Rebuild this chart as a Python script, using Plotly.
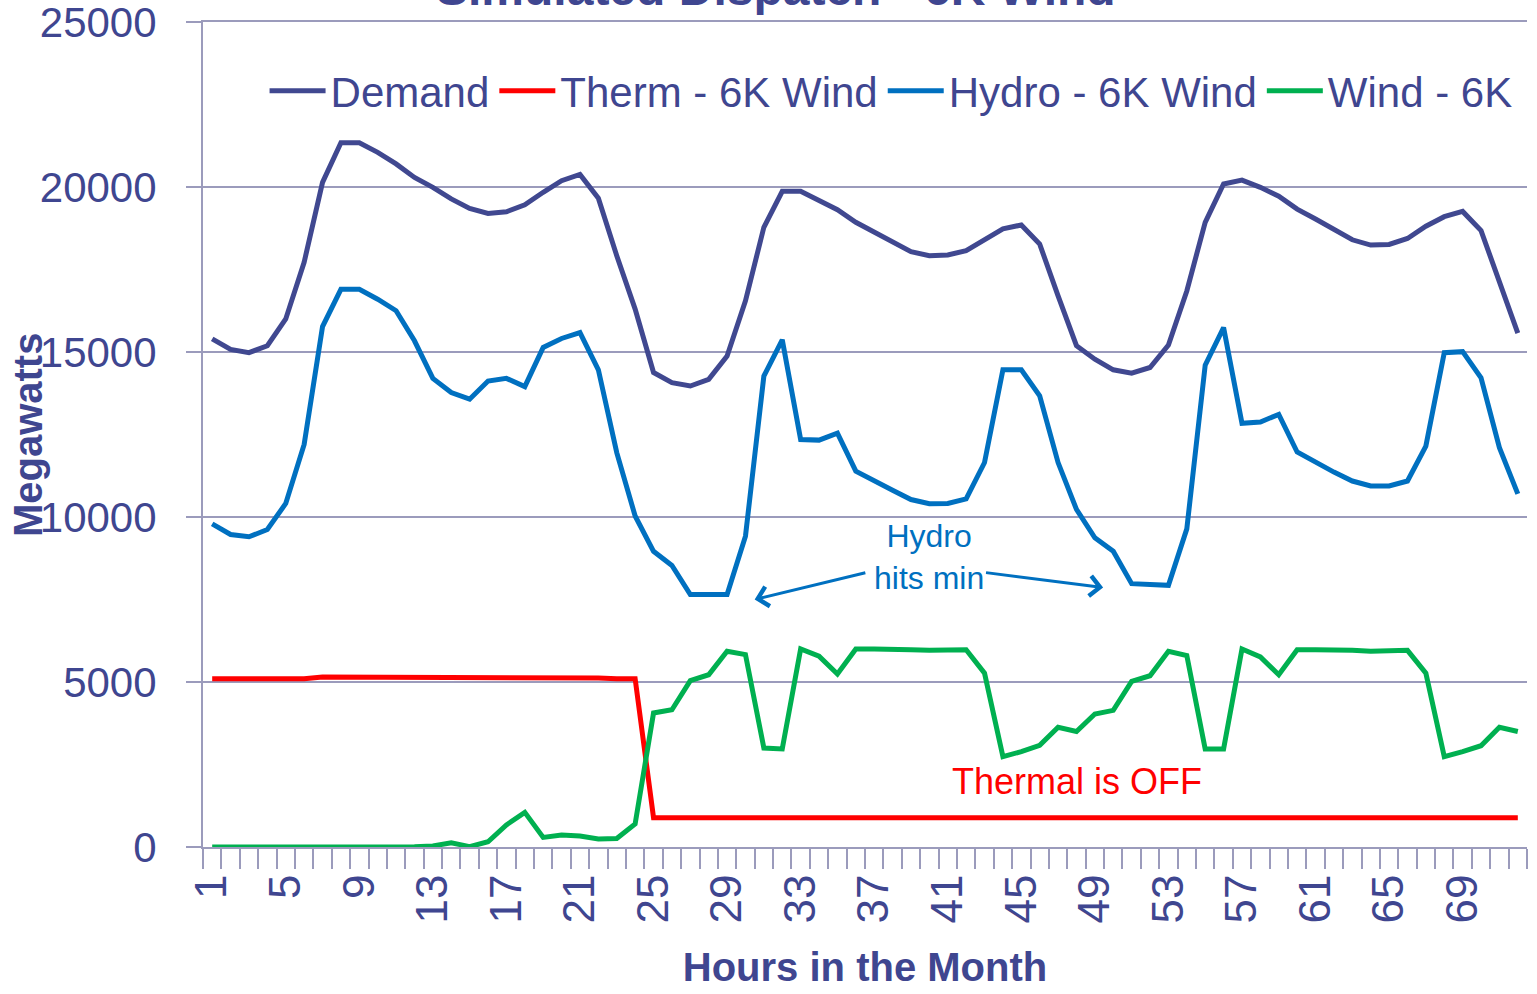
import plotly.graph_objects as go

# Hourly dispatch, first 72 hours of the month (MW)
hours = list(range(1, 73))

demand = [15400, 15080, 14980, 15190, 16000, 17720, 20140, 21340, 21340, 21050,
          20700, 20290, 19990, 19640, 19350, 19200, 19250, 19460, 19840, 20190,
          20380, 19660, 17920, 16300, 14380, 14070, 13970, 14170, 14880, 16550,
          18780, 19870, 19870, 19610, 19310, 18930, 18630, 18320, 18040, 17920,
          17940, 18070, 18420, 18730, 18850, 18270, 16700, 15190, 14780, 14460,
          14360, 14530, 15210, 16850, 18930, 20090, 20210, 19990, 19720, 19330,
          19030, 18710, 18400, 18240, 18260, 18440, 18810, 19100, 19260, 18680,
          17110, 15570]

therm = [5100, 5100, 5100, 5100, 5100, 5100, 5150, 5150, 5150, 5150,
         5150, 5150, 5150, 5150, 5150, 5150, 5150, 5150, 5150, 5150,
         5150, 5120, 5100, 5100, 890, 890, 890, 890, 890, 890,
         900, 920, 920, 920, 920, 920, 920, 920, 920, 920,
         920, 920, 920, 920, 920, 920, 890, 890, 890, 890,
         890, 890, 890, 890, 890, 890, 890, 890, 890, 890,
         890, 890, 890, 890, 890, 890, 890, 890, 890, 890,
         890, 890]

hydro = [9790, 9470, 9400, 9620, 10410, 12200, 15770, 16900, 16900, 16600,
         16250, 15340, 14200, 13770, 13570, 14120, 14200, 13950, 15140, 15410,
         15590, 14460, 11950, 10030, 8960, 8530, 7650, 7650, 7650, 9420,
         14270, 15370, 12350, 12330, 12540, 11390, 11120, 10810, 10530, 10400,
         10410, 10550, 11650, 14460, 14460, 13670, 11650, 10230, 9370, 8960,
         7980, 7960, 7930, 9640, 14600, 15740, 12840, 12880, 13110, 11970,
         11660, 11360, 11090, 10940, 10940, 11090, 12150, 14980, 15010, 14220,
         12100, 10700]

wind = [0, 0, -10, -20, -20, -20, -10, -10, 0, 0,
        0, 10, 30, 130, 10, 160, 670, 1050, 290, 360,
        330, 240, 260, 700, 4060, 4160, 5040, 5220, 5930, 5830,
        3000, 2970, 6000, 5780, 5240, 6000, 6000, 6000, 5980, 5960,
        5980, 5980, 5270, 2740, 2890, 3080, 3630, 3500, 4030, 4140,
        5020, 5190, 5930, 5800, 2970, 2970, 6000, 5760, 5220, 5980,
        5980, 5980, 5960, 5930, 5960, 5960, 5270, 2740, 2890, 3070,
        3630, 3500]

tick_hours = list(range(1, 73, 4))
tick_labels = [str(h) for h in tick_hours]

TEXT = "#3F4690"
GRID = "#9B9BBC"
FONT = "Liberation Sans, Arial, sans-serif"
LW = 5

fig = go.Figure()
fig.add_trace(go.Scatter(x=hours, y=demand, mode="lines", name="Demand",
                         line=dict(color="#404890", width=LW)))
fig.add_trace(go.Scatter(x=hours, y=therm, mode="lines", name="Therm - 6K Wind",
                         line=dict(color="#FF0000", width=LW)))
fig.add_trace(go.Scatter(x=hours, y=hydro, mode="lines", name="Hydro - 6K Wind",
                         line=dict(color="#0070C0", width=LW)))
fig.add_trace(go.Scatter(x=hours, y=wind, mode="lines", name="Wind - 6K",
                         line=dict(color="#00B050", width=LW)))

# Title sits mostly above the page edge
fig.add_annotation(text="<b>Simulated Dispatch - 6K Wind</b>", xref="paper", yref="paper",
                   x=0.433, y=1.0412, xanchor="center", yanchor="middle", showarrow=False,
                   font=dict(family=FONT, size=48, color=TEXT))

# Y-axis title, tucked close to the tick labels
fig.add_annotation(text="<b>Megawatts</b>", xref="paper", yref="paper",
                   x=-0.1325, y=0.5, xanchor="center", yanchor="middle",
                   textangle=-90, showarrow=False,
                   font=dict(family=FONT, size=40, color=TEXT))

# Notes
fig.add_annotation(text="Hydro<br>hits min", x=40, y=8800, showarrow=False,
                   font=dict(family=FONT, size=32, color="#0070C0"))
fig.add_annotation(text="", x=30.5, y=7500, ax=36.6, ay=8320, axref="x", ayref="y",
                   showarrow=True, arrowhead=4, arrowsize=1.3, arrowwidth=3,
                   arrowcolor="#0070C0")
fig.add_annotation(text="", x=49.45, y=7860, ax=43.0, ay=8320, axref="x", ayref="y",
                   showarrow=True, arrowhead=4, arrowsize=1.3, arrowwidth=3,
                   arrowcolor="#0070C0")
fig.add_annotation(text="Thermal is OFF", x=48.05, y=2000, showarrow=False,
                   font=dict(family=FONT, size=36, color="#FF0000"))

fig.update_layout(
    width=1537, height=994,
    margin=dict(l=203, r=10, t=22, b=147, autoexpand=False),
    paper_bgcolor="white", plot_bgcolor="white",
    font=dict(family=FONT, color=TEXT),
    showlegend=True,
    legend=dict(orientation="h", x=0.0465, y=0.9164, xanchor="left", yanchor="middle",
                font=dict(family=FONT, size=42, color=TEXT),
                bgcolor="rgba(0,0,0,0)", itemwidth=56, tracegroupgap=0),
)

fig.update_xaxes(
    range=[0.5, 72.5], automargin=False,
    tickmode="array", tickvals=tick_hours, ticktext=tick_labels,
    tickangle=-90, ticks="", ticklabelstandoff=8,
    tickfont=dict(family=FONT, size=44, color=TEXT),
    showgrid=False, zeroline=False,
    showline=True, linecolor=GRID, linewidth=2, mirror=True,
    minor=dict(tick0=0.5, dtick=1, ticks="outside", ticklen=20, tickcolor=GRID,
               tickwidth=2, showgrid=False),
    title=dict(text="<b>Hours in the Month</b>", standoff=30,
               font=dict(family=FONT, size=40, color=TEXT)),
)

fig.update_yaxes(
    range=[0, 25000], tickmode="linear", tick0=0, dtick=5000, tickformat="d",
    automargin=False, ticklabeloverflow="allow",
    ticks="outside", ticklen=15, tickcolor=GRID, tickwidth=2,
    ticklabelstandoff=21,
    tickfont=dict(family=FONT, size=42, color=TEXT),
    showgrid=True, gridcolor=GRID, gridwidth=2,
    zeroline=False, showline=True, linecolor=GRID, linewidth=2,
)

fig.write_html("out.html")
